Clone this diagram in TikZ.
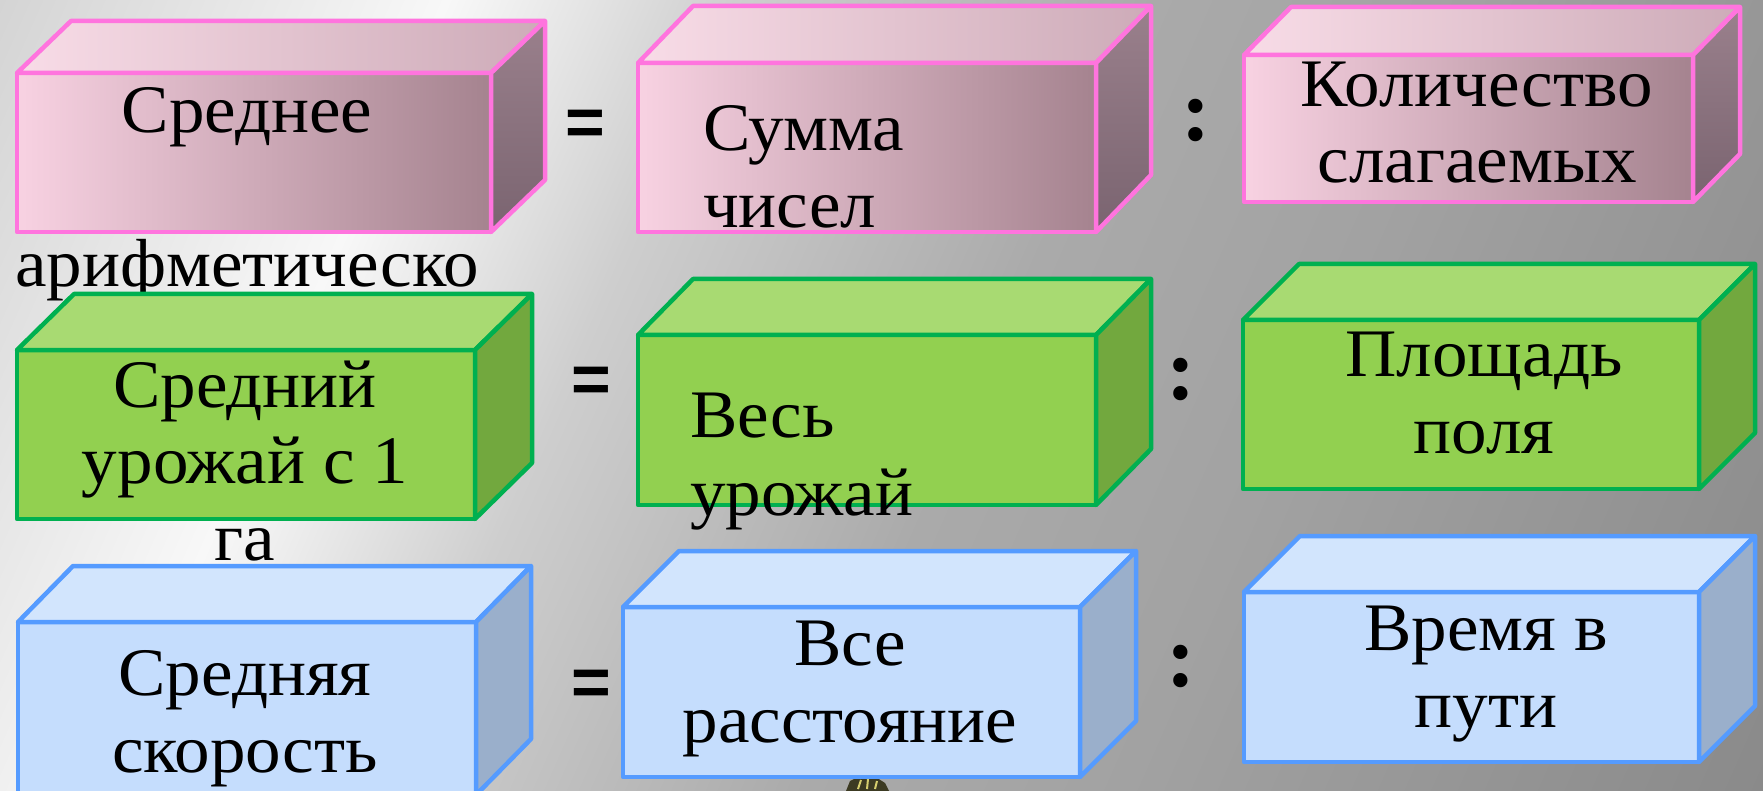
\documentclass[tikz,border=0pt]{standalone}
\usepackage{fontspec}
\setmainfont{Liberation Serif}[FakeStretch=1.045]
\newfontfamily\eqfont{Liberation Sans}
\newfontfamily\colfont{Liberation Serif}
\definecolor{pinkline}{HTML}{FF74DE}
\definecolor{pinkFL}{HTML}{F8D2E2}
\definecolor{pinkFR}{HTML}{A5838F}
\definecolor{pinkTL}{HTML}{F8DCE7}
\definecolor{pinkTR}{HTML}{CDABB8}
\definecolor{pinkST}{HTML}{9A808C}
\definecolor{pinkSB}{HTML}{7A6470}
\definecolor{greenline}{HTML}{00B050}
\definecolor{greenF}{HTML}{92D050}
\definecolor{greenT}{HTML}{A8DA72}
\definecolor{greenS}{HTML}{72A83E}
\definecolor{blueline}{HTML}{559BFF}
\definecolor{blueF}{HTML}{C5DDFD}
\definecolor{blueT}{HTML}{D2E5FD}
\definecolor{blueS}{HTML}{9AAFCB}
\definecolor{bgA}{HTML}{CCCCCC}
\definecolor{bgB}{HTML}{D4D4D4}
\definecolor{bgC}{HTML}{F8F8F8}
\definecolor{bgD}{HTML}{E6E6E6}
\definecolor{bgE}{HTML}{CECECE}
\definecolor{bgF}{HTML}{AAAAAA}
\definecolor{bgG}{HTML}{A2A2A2}
\definecolor{bgH}{HTML}{8A8A8A}
\definecolor{objdark}{HTML}{3C3A22}
\definecolor{objlight}{HTML}{D6CE6E}
\pgfdeclarehorizontalshading{bgshade}{100bp}{color(0bp)=(bgA); color(17bp)=(bgB); color(31bp)=(bgC); color(35bp)=(bgD); color(40bp)=(bgE); color(53bp)=(bgF); color(63bp)=(bgG); color(83bp)=(bgH); color(100bp)=(bgH)}
% name, x1, y1, x2, y2, dx, dy, scheme
\newcommand{\cuboid}[8]{%
  \node[#8front, minimum width={#4-#2}, minimum height={#5-#3}, anchor=north west] (#1) at (#2,#3) {};
  \draw[#8top] (#1.north west) -- ++(#6,-#7) -- ([shift={(#6,-#7)}]#1.north east) -- (#1.north east) -- cycle;
  \draw[#8side] (#1.north east) -- ++(#6,-#7) -- ([shift={(#6,-#7)}]#1.south east) -- (#1.south east) -- cycle;
}
\begin{document}
\begin{tikzpicture}[x=1pt,y=-1pt,
  every node/.style={inner sep=0pt, outer sep=0pt},
  face/.style={line width=4.5pt, line join=round},
  pinkfront/.style={face, rectangle, draw=pinkline, left color=pinkFL, right color=pinkFR},
  pinktop/.style={face, draw=pinkline, left color=pinkTL, right color=pinkTR},
  pinkside/.style={face, draw=pinkline, top color=pinkST, bottom color=pinkSB},
  greenfront/.style={face, rectangle, draw=greenline, fill=greenF},
  greentop/.style={face, draw=greenline, fill=greenT},
  greenside/.style={face, draw=greenline, fill=greenS},
  bluefront/.style={face, rectangle, draw=blueline, fill=blueF},
  bluetop/.style={face, draw=blueline, fill=blueT},
  blueside/.style={face, draw=blueline, fill=blueS},
  lbl/.style={font=\fontsize{68}{76.5}\selectfont, anchor=base, align=center},
  lbll/.style={font=\fontsize{68}{77.5}\selectfont, anchor=base west, align=left},
  eqsign/.style={font=\eqfont\bfseries\fontsize{68}{68}\selectfont, anchor=center},
  colsign/.style={font=\colfont\bfseries\fontsize{88}{88}\selectfont, anchor=center},
]
\useasboundingbox (0,0) rectangle (1763,791);
\clip (0,0) rectangle (1763,791);
\shade[shading=bgshade, shading angle=-23.8] (0,0) rectangle (1763,791);
% small partly visible object at the bottom
\fill[objdark] (846,791) -- (850,781) -- (860,776) -- (874,776) -- (885,783) -- (889,791) -- cycle;
\draw[objlight, line width=2pt] (858,789) -- (861,780) (867,789) -- (868,779) (875,789) -- (877,781);

% row 1 (multi-line nodes: the base anchor is the last line's baseline)
\cuboid{b1}{17}{73}{491}{232}{54}{52}{pink}
\cuboid{b2}{638}{63}{1096}{232}{55}{57}{pink}
\cuboid{b3}{1244}{55}{1693}{202}{47}{48}{pink}
\node[lbl] (t1) at (247,133) {Среднее};
\node[lbl] (t1b) at (247,287) {арифметическо};
\node[lbll] (t2) at (703,228) {Сумма\\чисел};
\node[lbl] (t3) at (1477,183) {Количество\\слагаемых};
\node[eqsign] (e1) at (585,128) {=};
\node[colsign] (c1) at (1196,121) {:};

% row 2
\cuboid{b4}{17}{350}{475}{519}{57}{56}{green}
\cuboid{b5}{638}{335}{1096}{505}{55}{56}{green}
\cuboid{b6}{1243}{320}{1699}{489}{56}{56}{green}
\node[lbl] (t4) at (245,560) {Средний\\урожай с 1\\га};
\node[lbll] (t5) at (690,515) {Весь\\урожай};
\node[lbl] (t6) at (1484,453) {Площадь\\поля};
\node[eqsign] (e2) at (591,385) {=};
\node[colsign] (c2) at (1181,379) {:};

% row 3
\cuboid{b7}{18}{622}{476}{795}{55}{56}{blue}
\cuboid{b8}{623}{607}{1080}{777}{56}{56}{blue}
\cuboid{b9}{1244}{592}{1699}{762}{56}{56}{blue}
\node[lbl] (t7) at (245,772) {Средняя\\скорость};
\node[lbl] (t8) at (850,742) {Все\\расстояние};
\node[lbl] (t9) at (1486,727) {Время в\\пути};
\node[eqsign] (e3) at (591,688) {=};
\node[colsign] (c3) at (1181,666) {:};
\end{tikzpicture}
\end{document}
